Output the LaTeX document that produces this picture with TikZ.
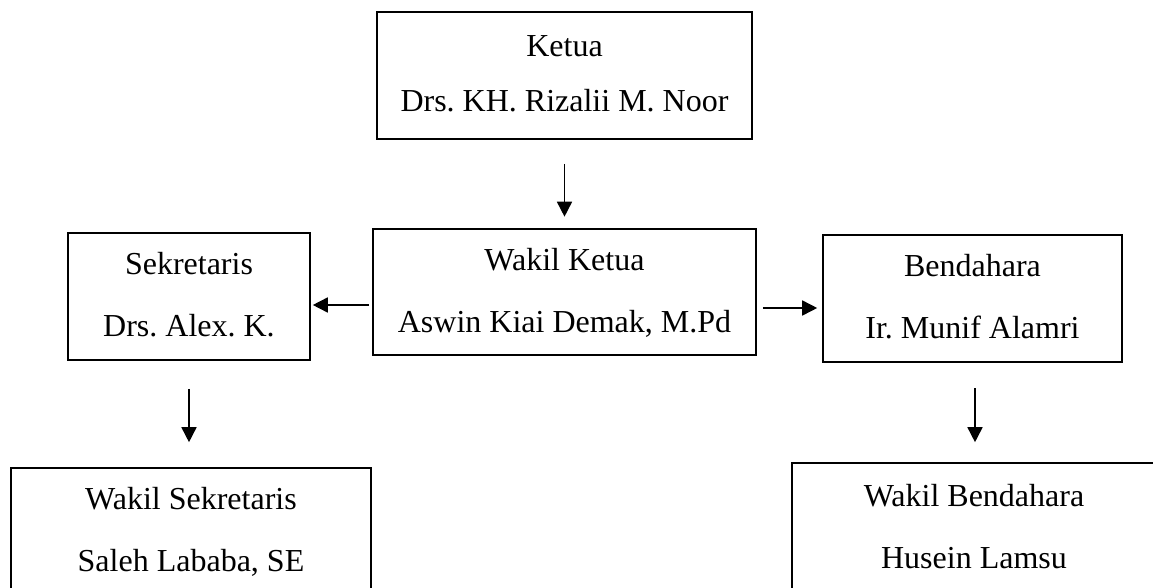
\documentclass[tikz,border=0pt]{standalone}
\usepackage{fontspec}
\setmainfont{Liberation Serif}
\usetikzlibrary{arrows.meta}
\newcommand\orgstrut{\rule[-0.35\baselineskip]{0pt}{\baselineskip}}
\frenchspacing
\begin{document}
\begin{tikzpicture}[x=1pt,y=-1pt,
  box/.style={draw, line width=1.6pt, inner sep=0pt, align=center, font=\frenchspacing\fontsize{32}{62}\selectfont},
  arr/.style={-{Triangle[length=15pt,width=15pt]}, line width=1.6pt}]
\clip (0,0) rectangle (1153,588);
\node[box, minimum width=375pt, minimum height=127pt, font=\frenchspacing\fontsize{32}{55}\selectfont] (ketua) at (564.5,75.5)
  {\orgstrut Ketua\\\orgstrut Drs. KH. Rizalii M. Noor};
\node[box, minimum width=383pt, minimum height=126pt] (wakil) at (564.5,292)
  {\orgstrut Wakil Ketua\\\orgstrut Aswin Kiai Demak, M.Pd};
\node[box, minimum width=242pt, minimum height=127pt] (sek) at (189,296.5)
  {\orgstrut Sekretaris\\\orgstrut Drs. Alex. K.};
\node[box, minimum width=299pt, minimum height=127pt] (bend) at (972.5,298.5)
  {\orgstrut Bendahara\\\orgstrut Ir. Munif Alamri};
\node[box, minimum width=360pt, minimum height=127pt] (wsek) at (191,531.5)
  {\orgstrut Wakil Sekretaris\\\orgstrut Saleh Lababa, SE};
\node[box, minimum width=364pt, minimum height=130pt] (wbend) at (974,528)
  {\orgstrut Wakil Bendahara\\\orgstrut Husein Lamsu};
\coordinate (wl) at ([yshift=-13pt]wakil.west);
\coordinate (wr) at ([yshift=-16pt]wakil.east);
\coordinate (bb) at ([xshift=2.5pt]bend.south);
\draw[arr, shorten <=24pt, shorten >=11.5pt] (ketua.south) -- (wakil.north);
\draw[arr, shorten <=3pt, shorten >=2pt] (wl) -- (wl -| sek.east);
\draw[arr, shorten <=6pt, shorten >=5pt] (wr) -- (wr -| bend.west);
\draw[arr, shorten <=28pt, shorten >=25pt] (sek.south) -- (sek.south |- wsek.north);
\draw[arr, shorten <=25.5pt, shorten >=20pt] (bb) -- (bb |- wbend.north);
\end{tikzpicture}
\end{document}
